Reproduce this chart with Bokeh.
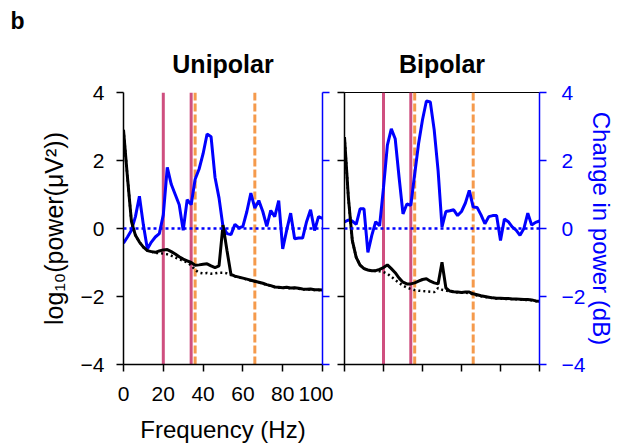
from bokeh.plotting import figure
from bokeh.models import Range1d, LinearAxis, Span, FixedTicker, Title
from bokeh.layouts import row
from bokeh.embed import file_html
from bokeh.resources import INLINE

# ---------------- data ----------------
freq = list(range(0, 101, 2))

uni_power = [2.9, 1.5, 0.2, -0.2, -0.4, -0.55, -0.65, -0.68, -0.7, -0.66,
             -0.63, -0.62, -0.68, -0.75, -0.83, -0.9, -0.95, -1.0, -1.08, -1.07,
             -1.05, -1.04, -1.1, -1.15, -1.1, 0.1, -0.65, -1.35, -1.4, -1.43,
             -1.46, -1.49, -1.52, -1.55, -1.58, -1.61, -1.65, -1.68, -1.72, -1.73,
             -1.74, -1.73, -1.75, -1.74, -1.76, -1.78, -1.79, -1.78, -1.8, -1.8, -1.81]
uni_power_base = [2.9, 1.5, 0.2, -0.2, -0.4, -0.55, -0.65, -0.68, -0.72, -0.72,
                  -0.74, -0.76, -0.8, -0.85, -0.9, -0.95, -1.0, -1.08, -1.22, -1.3,
                  -1.32, -1.31, -1.33, -1.32, -1.3, -1.3, -1.32, -1.37, -1.41, -1.44,
                  -1.47, -1.5, -1.53, -1.56, -1.59, -1.62, -1.66, -1.69, -1.72, -1.74,
                  -1.75, -1.74, -1.76, -1.75, -1.77, -1.79, -1.8, -1.79, -1.81, -1.81, -1.82]
uni_change = [-0.43, -0.25, -0.05, 0.35, 0.95, 0.1, -0.6, -0.4, -0.25, -0.15,
              0.4, 1.8, 1.3, 1.0, 0.7, -0.05, 0.85, 0.7, 1.45, 1.75,
              2.2, 2.78, 2.7, 1.5, 0.9, 0.05, -0.15, -0.18, 0.12, 0.02,
              0.06, 0.5, 1.04, 0.6, 0.82, 0.5, 0.06, 0.53, 0.35, 0.82,
              -0.6, -0.05, 0.45, -0.3, -0.28, -0.28, 0.2, 0.55, -0.06, 0.35, 0.3]

bi_power = [2.69, 0.9, -0.35, -0.85, -1.08, -1.18, -1.22, -1.24, -1.24, -1.2,
            -1.15, -1.07, -1.18, -1.3, -1.46, -1.58, -1.63, -1.63, -1.6, -1.55,
            -1.5, -1.48, -1.55, -1.6, -1.63, -0.99, -1.75, -1.84, -1.86, -1.87,
            -1.88, -1.87, -1.87, -1.92, -1.95, -1.98, -2.0, -2.02, -2.04, -2.05,
            -2.05, -2.06, -2.06, -2.07, -2.07, -2.08, -2.09, -2.09, -2.1, -2.13, -2.14]
bi_power_base = [2.69, 0.9, -0.35, -0.85, -1.08, -1.18, -1.22, -1.24, -1.25, -1.26,
                 -1.28, -1.33, -1.42, -1.51, -1.6, -1.68, -1.74, -1.78, -1.81, -1.83,
                 -1.84, -1.85, -1.86, -1.87, -1.75, -1.8, -1.82, -1.85, -1.87, -1.88,
                 -1.89, -1.89, -1.9, -1.94, -1.97, -1.99, -2.01, -2.03, -2.05, -2.06,
                 -2.06, -2.07, -2.07, -2.08, -2.08, -2.09, -2.1, -2.1, -2.11, -2.13, -2.15]
bi_change = [0.19, 0.25, 0.22, 0.12, 0.58, 0.58, -0.7, -0.2, 0.2, 0.08,
             1.2, 2.45, 2.93, 2.64, 1.5, 0.43, 0.72, 0.68, 1.6, 2.5,
             3.2, 3.75, 3.72, 2.9, 1.7, 0.05, 0.5, 0.52, 0.55, 0.38,
             0.5, 0.75, 1.12, 0.63, 0.62, 0.4, 0.14, 0.35, 0.38, 0.38,
             -0.35, 0.28, 0.2, 0.05, -0.05, -0.2, 0.0, 0.45, 0.1, 0.18, 0.22]

red_lines = [20, 34]
orange_lines = [36, 66]
x_ticks = [0, 20, 40, 60, 80, 100]
y_ticks = [-4, -2, 0, 2, 4]

FONT = "Liberation Sans"
BLUE = "#0000ff"
RED = "#cf4f7f"
ORANGE = "#f59a4c"


def style_axis(ax, color="black", labels=True, ticks=None):
    ax.ticker = FixedTicker(ticks=ticks)
    ax.axis_line_color = color
    ax.axis_line_width = 1.5
    ax.major_tick_line_color = color
    ax.major_tick_line_width = 1.5
    ax.major_tick_out = 7
    ax.major_tick_in = 0
    ax.minor_tick_line_color = None
    ax.major_label_text_font = FONT
    ax.major_label_text_font_size = "21px"
    ax.major_label_text_color = color
    ax.major_label_standoff = 7
    ax.axis_label_text_font = FONT
    ax.axis_label_text_font_size = "24px"
    ax.axis_label_text_font_style = "normal"
    ax.axis_label_text_color = color
    if not labels:
        ax.major_label_overrides = {t: "" for t in ticks}
        ax.major_label_standoff = 0


def make_panel(title, power, base, change, width, left, right, show_x_labels):
    p = figure(width=width, height=448, x_range=Range1d(0, 100), y_range=Range1d(-4, 4),
               min_border_left=left, min_border_right=right, min_border_top=92,
               min_border_bottom=84, output_backend="svg", toolbar_location=None)
    p.grid.visible = False
    p.outline_line_color = None
    p.background_fill_color = "white"
    p.border_fill_color = "white"

    p.add_layout(Title(text=title, align="center", text_font=FONT, text_font_size="25px",
                       text_font_style="bold", text_color="black", standoff=29), "above")

    for xr in red_lines:
        p.add_layout(Span(location=xr, dimension="height", line_color=RED,
                          line_width=3, level="underlay"))
    for xo in orange_lines:
        p.add_layout(Span(location=xo, dimension="height", line_color=ORANGE,
                          line_width=3, line_dash="8 3", level="underlay"))

    p.add_layout(Span(location=0, dimension="width", line_color=BLUE,
                      line_width=2.5, line_dash="3 3"))

    p.line(freq, change, line_color=BLUE, line_width=3)
    p.line(freq, base, line_color="black", line_width=2.5, line_dash="2 3")
    p.line(freq, power, line_color="black", line_width=3)

    style_axis(p.xaxis[0], labels=show_x_labels, ticks=x_ticks)
    return p


p1 = make_panel("Unipolar", uni_power, uni_power_base, uni_change, 333, 123, 11, True)
p1.title.text = "b"
p1.title.align = "left"
p1.title.offset = -113
p1.title.text_font = FONT
p1.title.text_font_size = "23px"
p1.title.text_font_style = "bold"
p1.title.text_color = "black"
p1.title.standoff = 0
p1.xaxis[0].axis_label = "Frequency (Hz)"
p1.xaxis[0].major_label_standoff = 15
p1.xaxis[0].axis_label_standoff = 12
style_axis(p1.yaxis[0], labels=True, ticks=y_ticks)
p1.yaxis[0].major_label_standoff = 12
p1.yaxis[0].axis_label = "log\u2081\u2080(power(\u03bcV\u00b2))"
p1.yaxis[0].axis_label_standoff = 10
p1.yaxis[0].axis_label_text_font_size = "25px"
r1 = LinearAxis()
style_axis(r1, color=BLUE, labels=False, ticks=y_ticks)
p1.add_layout(r1, "right")

p2 = make_panel("Bipolar", bi_power, bi_power_base, bi_change, 285, 11, 76, False)
p2.outline_line_color = "black"
style_axis(p2.yaxis[0], labels=False, ticks=y_ticks)
r2 = LinearAxis(axis_label="Change in power (dB)")
style_axis(r2, color=BLUE, labels=True, ticks=y_ticks)
r2.major_label_standoff = 15
r2.axis_label_standoff = 0
p2.add_layout(r2, "right")

layout = row(p1, p2)
open("out.html", "w").write(file_html(layout, INLINE))
